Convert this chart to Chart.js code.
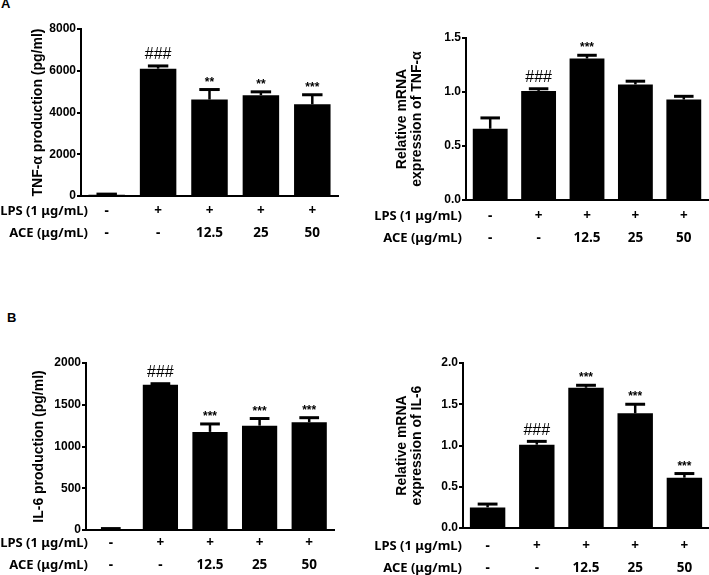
<!DOCTYPE html>
<html>
<head>
<meta charset="utf-8">
<script src="https://cdn.jsdelivr.net/npm/chart.js"></script>
<style>
  body { margin: 0; background: #fff; }
  #wrap { position: relative; width: 709px; height: 575px; overflow: hidden; background: #fff; }
  canvas { position: absolute; }
  .tag { position: absolute; font: bold 13px 'Liberation Sans', Arial, sans-serif; line-height: 13px; }
</style>
</head>
<body>
<div id="wrap">
  <div class="tag" style="left:1px;top:-3px">A</div>
  <div class="tag" style="left:7px;top:311px">B</div>
  <canvas id="tnfProd" width="350" height="255" style="left:0;top:0"></canvas>
  <canvas id="tnfMrna" width="354" height="255" style="left:355px;top:0"></canvas>
  <canvas id="il6Prod" width="350" height="295" style="left:0;top:280px"></canvas>
  <canvas id="il6Mrna" width="354" height="295" style="left:355px;top:280px"></canvas>
</div>
<script>
// treatment rows under each x axis
const lpsRow = ['-', '+', '+', '+', '+'];
const aceRow = ['-', '-', '12.5', '25', '50'];
const rowTitles = ['LPS (1 \u03bcg/mL)', 'ACE (\u03bcg/mL)'];

// A: TNF-alpha
const tnfProd = [60, 6100, 4620, 4830, 4390];
const tnfProdErr = [30, 130, 480, 160, 460];
const tnfProdMarks = ['', '###', '**', '**', '***'];

const tnfMrna = [0.66, 1.01, 1.31, 1.07, 0.93];
const tnfMrnaErr = [0.10, 0.02, 0.03, 0.03, 0.03];
const tnfMrnaMarks = ['', '###', '***', '', ''];

// B: IL-6
const il6Prod = [12, 1740, 1175, 1250, 1290];
const il6ProdErr = [5, 12, 95, 85, 55];
const il6ProdMarks = ['', '###', '***', '***', '***'];

const il6Mrna = [0.25, 1.01, 1.70, 1.39, 0.61];
const il6MrnaErr = [0.04, 0.04, 0.03, 0.11, 0.05];
const il6MrnaMarks = ['', '###', '***', '***', '***'];

const sans = "'Liberation Sans', Arial, sans-serif";
const rowFont = "'Noto Sans', 'Open Sans', sans-serif";

function panel(id, vals, errs, marks, yMax, yStep, dec, title, box) {
  const overlay = {
    id: 'overlay',
    afterDatasetsDraw(chart) {
      const ctx = chart.ctx;
      const y = chart.scales.y;
      const bars = chart.getDatasetMeta(0).data;
      ctx.save();
      ctx.strokeStyle = '#000';
      ctx.fillStyle = '#000';
      bars.forEach((bar, i) => {
        const capY = y.getPixelForValue(vals[i] + errs[i]);
        const half = bar.width * 0.28;
        ctx.lineWidth = 2.5;
        ctx.beginPath();
        ctx.moveTo(bar.x, bar.y);
        ctx.lineTo(bar.x, capY);
        ctx.stroke();
        ctx.lineWidth = 3;
        ctx.beginPath();
        ctx.moveTo(bar.x - half, capY);
        ctx.lineTo(bar.x + half, capY);
        ctx.stroke();
        const m = marks[i];
        if (!m) return;
        ctx.textAlign = 'center';
        ctx.textBaseline = 'alphabetic';
        if (m[0] === '#') {
          ctx.font = '16px ' + sans;
          ctx.fillText(m, bar.x, capY - 6.5);
        } else {
          ctx.font = 'bold 12px ' + sans;
          ctx.fillText(m, bar.x, capY - 4);
        }
      });
      // row titles left of the tick rows
      const b = chart.chartArea.bottom;
      ctx.font = 'bold 13px ' + rowFont;
      ctx.textAlign = 'right';
      ctx.textBaseline = 'middle';
      rowTitles.forEach((t, r) => {
        ctx.fillText(t, box.rowX, b + box.tickPad + 11 + r * 22);
      });
      ctx.restore();
    }
  };

  new Chart(document.getElementById(id), {
    type: 'bar',
    data: {
      labels: lpsRow.map((p, i) => [p, aceRow[i]]),
      datasets: [{
        data: vals,
        backgroundColor: '#000',
        borderWidth: 0,
        barPercentage: box.barPct,
        categoryPercentage: 1
      }]
    },
    options: {
      responsive: false,
      animation: false,
      layout: { padding: { left: 0, right: box.right, top: box.top, bottom: 0 } },
      plugins: { legend: { display: false }, tooltip: { enabled: false } },
      scales: {
        x: {
          grid: { display: false, drawTicks: false },
          border: { color: '#000', width: 2 },
          ticks: {
            color: '#000',
            autoSkip: false,
            maxRotation: 0,
            padding: box.tickPad,
            font: { family: rowFont, size: 13.5, weight: 'bold', lineHeight: '22px' }
          },
          afterFit: s => { s.height = box.xHeight; }
        },
        y: {
          min: 0,
          max: yMax,
          ticks: {
            stepSize: yStep,
            color: '#000',
            padding: 1,
            font: { family: sans, size: 12, weight: 'bold' },
            callback: v => v.toFixed(dec)
          },
          grid: { drawOnChartArea: false, drawTicks: true, tickLength: 4, lineWidth: 2, color: '#000' },
          border: { color: '#000', width: 2 },
          title: {
            display: true,
            text: title,
            color: '#000',
            font: { family: sans, size: 14, weight: 'bold', lineHeight: '15px' },
            padding: { top: box.titlePad, bottom: 0 }
          },
          afterFit: s => { s.width = box.yWidth; }
        }
      }
    },
    plugins: [overlay]
  });
}

panel('tnfProd', tnfProd, tnfProdErr, tnfProdMarks, 8000, 2000, 0,
  'TNF-\u03b1 production (pg/ml)',
  { yWidth: 81, right: 12, top: 29, xHeight: 59, tickPad: 4, titlePad: 31, rowX: 88, barPct: 0.71 });

panel('tnfMrna', tnfMrna, tnfMrnaErr, tnfMrnaMarks, 1.5, 0.5, 1,
  ['Relative mRNA', 'expression of TNF-\u03b1'],
  { yWidth: 111, right: 1, top: 38, xHeight: 55, tickPad: 5, titlePad: 40, rowX: 107, barPct: 0.72 });

panel('il6Prod', il6Prod, il6ProdErr, il6ProdMarks, 2000, 500, 0,
  'IL-6 production (pg/ml)',
  { yWidth: 86, right: 16, top: 83, xHeight: 45, tickPad: 2, titlePad: 32, rowX: 88, barPct: 0.71 });

panel('il6Mrna', il6Mrna, il6MrnaErr, il6MrnaMarks, 2.0, 0.5, 1,
  ['Relative mRNA', 'expression of IL-6'],
  { yWidth: 108, right: 0, top: 83, xHeight: 47, tickPad: 7, titlePad: 40, rowX: 107, barPct: 0.72 });
</script>
</body>
</html>
